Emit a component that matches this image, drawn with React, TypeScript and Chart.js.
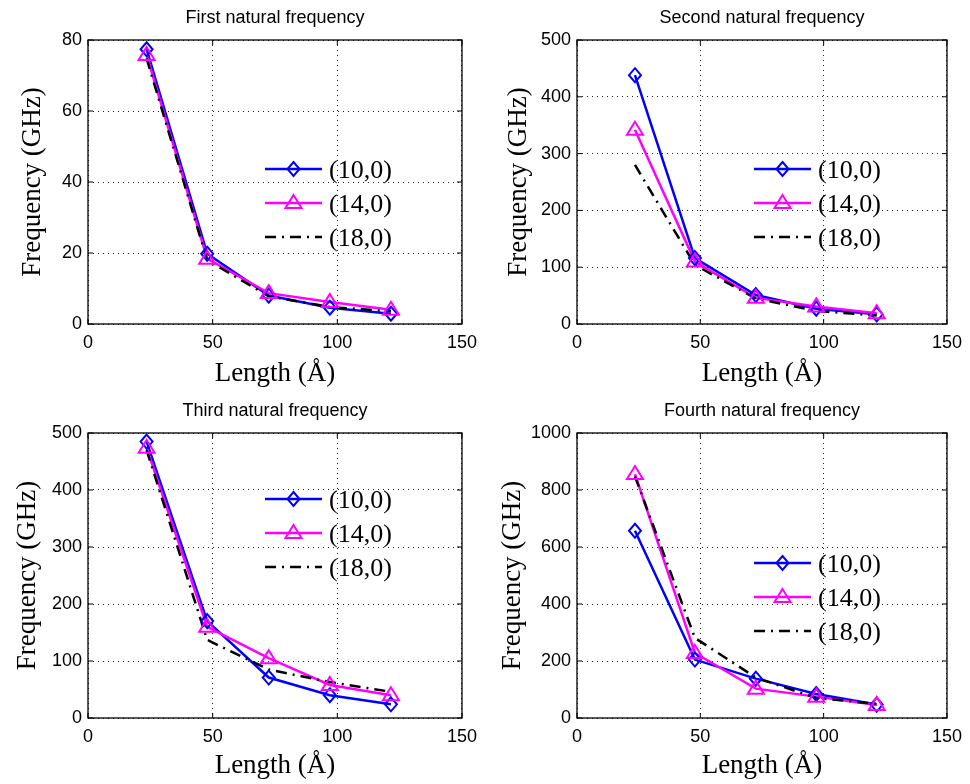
import React, { useEffect, useRef } from "react";
import { Chart, registerables } from "chart.js";

Chart.register(...registerables);

// ---------- data ----------
const lengths = [23.5, 47.8, 72.5, 97, 121.5];
const seriesNames = ["(10,0)", "(14,0)", "(18,0)"];

const first10 = [77.4, 19.8, 8.0, 4.6, 2.9];
const first14 = [75.8, 18.4, 8.7, 6.2, 4.0];
const first18 = [74.8, 18.0, 7.8, 4.8, 3.6];

const second10 = [438, 116, 51, 27, 17];
const second14 = [342, 110, 46, 31, 19];
const second18 = [280, 104, 45, 23, 15];

const third10 = [485, 170, 71, 40, 24];
const third14 = [474, 160, 105, 58, 40];
const third18 = [470, 137, 85, 63, 46];

const fourth10 = [657, 205, 138, 84, 47];
const fourth14 = [856, 228, 103, 75, 46];
const fourth18 = [848, 281, 142, 70, 50];

const titles = [
  "First natural frequency",
  "Second natural frequency",
  "Third natural frequency",
  "Fourth natural frequency",
];
const xTickMax = 150;
const xTickStep = 50;
const yMaxes = [80, 500, 500, 1000];
const ySteps = [20, 100, 100, 200];
const xLabel = "Length (Å)";
const yLabel = "Frequency (GHz)";

const panelSeries = [
  [first10, first14, first18],
  [second10, second14, second18],
  [third10, third14, third18],
  [fourth10, fourth14, fourth18],
];

// ---------- layout ----------
const W = 485;
const H = 392;
const frames = [
  { L: 88, R: 462, T: 40, B: 324, yLabelX: 33, titleY: 18, xLabelY: 374, legTop: 129 },
  { L: 92, R: 466, T: 40, B: 324, yLabelX: 34, titleY: 18, xLabelY: 374, legTop: 129 },
  { L: 88, R: 462, T: 41, B: 326, yLabelX: 28, titleY: 19, xLabelY: 374, legTop: 66 },
  { L: 92, R: 466, T: 41, B: 326, yLabelX: 28, titleY: 19, xLabelY: 374, legTop: 130 },
];
const colors = ["#0000ff", "#ff00ff", "#000000"];
const markers = ["diamond", "triangle", "none"];
const dashes: number[][] = [[], [], [11, 6, 2, 6]];

function drawMarker(ctx: CanvasRenderingContext2D, kind: string, x: number, y: number, color: string) {
  if (kind === "none") return;
  ctx.save();
  ctx.setLineDash([]);
  ctx.strokeStyle = color;
  ctx.lineWidth = 2;
  ctx.beginPath();
  if (kind === "diamond") {
    ctx.moveTo(x, y - 7);
    ctx.lineTo(x + 6, y);
    ctx.lineTo(x, y + 7);
    ctx.lineTo(x - 6, y);
    ctx.closePath();
  } else {
    ctx.moveTo(x, y - 8);
    ctx.lineTo(x + 8, y + 5);
    ctx.lineTo(x - 8, y + 5);
    ctx.closePath();
  }
  ctx.stroke();
  ctx.restore();
}

const decor = {
  id: "decor",
  afterDatasetsDraw(chart: any, _args: any, opts: any) {
    const { ctx, chartArea: a } = chart;
    const xs = chart.scales.x;
    const ys = chart.scales.y;
    ctx.save();
    // markers for data points
    chart.data.datasets.forEach((ds: any, i: number) => {
      if (markers[i] === "none") return;
      const meta = chart.getDatasetMeta(i);
      meta.data.forEach((pt: any) => drawMarker(ctx, markers[i], pt.x, pt.y, colors[i]));
    });
    // frame
    ctx.setLineDash([]);
    ctx.strokeStyle = "#000";
    ctx.lineWidth = 1.3;
    ctx.strokeRect(a.left, a.top, a.right - a.left, a.bottom - a.top);
    ctx.beginPath();
    xs.ticks.forEach((t: any) => {
      const px = xs.getPixelForValue(t.value);
      ctx.moveTo(px, a.bottom);
      ctx.lineTo(px, a.bottom - 5);
      ctx.moveTo(px, a.top);
      ctx.lineTo(px, a.top + 5);
    });
    ys.ticks.forEach((t: any) => {
      const py = ys.getPixelForValue(t.value);
      ctx.moveTo(a.left, py);
      ctx.lineTo(a.left + 5, py);
      ctx.moveTo(a.right, py);
      ctx.lineTo(a.right - 5, py);
    });
    ctx.lineWidth = 1;
    ctx.stroke();
    // title
    ctx.fillStyle = "#000";
    ctx.textAlign = "center";
    ctx.textBaseline = "middle";
    ctx.font = "18px 'Liberation Sans', Arial, sans-serif";
    ctx.fillText(opts.title, (a.left + a.right) / 2, opts.titleY);
    // axis labels
    ctx.font = "27px 'Liberation Serif', 'Times New Roman', serif";
    ctx.fillText(xLabel, (a.left + a.right) / 2, opts.xLabelY);
    ctx.save();
    ctx.translate(opts.yLabelX, (a.top + a.bottom) / 2);
    ctx.rotate(-Math.PI / 2);
    ctx.fillText(yLabel, 0, 0);
    ctx.restore();
    // legend
    ctx.font = "26px 'Liberation Serif', 'Times New Roman', serif";
    ctx.textAlign = "left";
    seriesNames.forEach((name, i) => {
      const y = a.top + opts.legTop + i * 34;
      const x0 = a.left + 177;
      const x1 = x0 + 57;
      ctx.save();
      ctx.strokeStyle = colors[i];
      ctx.lineWidth = 2.5;
      ctx.setLineDash(dashes[i]);
      ctx.beginPath();
      ctx.moveTo(x0, y);
      ctx.lineTo(x1, y);
      ctx.stroke();
      ctx.restore();
      drawMarker(ctx, markers[i], (x0 + x1) / 2, y, colors[i]);
      ctx.fillStyle = "#000";
      ctx.fillText(name, x1 + 7, y + 2);
    });
    ctx.restore();
  },
};

function Panel({ index }: { index: number }) {
  const ref = useRef<HTMLCanvasElement | null>(null);
  useEffect(() => {
    if (!ref.current) return;
    const f = frames[index];
    const series = panelSeries[index];
    const chart = new Chart(ref.current, {
      type: "scatter",
      data: {
        datasets: series.map((vals, i) => ({
          label: seriesNames[i],
          data: lengths.map((x, k) => ({ x, y: vals[k] })),
          showLine: true,
          borderColor: colors[i],
          backgroundColor: colors[i],
          borderWidth: 2.5,
          borderDash: dashes[i],
          pointRadius: 0,
          pointHoverRadius: 0,
          order: 2 - i,
        })),
      },
      options: {
        animation: false,
        responsive: false,
        devicePixelRatio: 1,
        events: [],
        layout: { padding: { left: 0, top: f.T, right: W - f.R, bottom: 0 } },
        plugins: {
          legend: { display: false },
          tooltip: { enabled: false },
          title: { display: false },
          decor: {
            title: titles[index],
            titleY: f.titleY,
            xLabelY: f.xLabelY,
            yLabelX: f.yLabelX,
            legTop: f.legTop,
          },
        } as any,
        scales: {
          x: {
            type: "linear",
            min: 0,
            max: xTickMax,
            ticks: {
              stepSize: xTickStep,
              color: "#000",
              padding: 8,
              callback: (v: any) => String(v),
              font: { family: "'Liberation Sans', Arial, sans-serif", size: 18 },
            },
            grid: { color: "#222", lineWidth: 1, drawTicks: false },
            border: { display: false, dash: [1, 4] },
            afterFit: (s: any) => {
              s.height = H - f.B;
            },
          },
          y: {
            type: "linear",
            min: 0,
            max: yMaxes[index],
            ticks: {
              stepSize: ySteps[index],
              color: "#000",
              padding: 6,
              callback: (v: any) => String(v),
              font: { family: "'Liberation Sans', Arial, sans-serif", size: 18 },
            },
            grid: { color: "#222", lineWidth: 1, drawTicks: false },
            border: { display: false, dash: [1, 4] },
            afterFit: (s: any) => {
              s.width = f.L;
            },
          },
        },
      },
      plugins: [decor as any],
    });
    return () => chart.destroy();
  }, [index]);
  return <canvas ref={ref} width={W} height={H} style={{ width: W, height: H, display: "block" }} />;
}

export default function App() {
  return (
    <div
      style={{
        position: "fixed",
        left: 0,
        top: 0,
        width: 970,
        height: 784,
        background: "#fff",
        display: "grid",
        gridTemplateColumns: `${W}px ${W}px`,
        gridTemplateRows: `${H}px ${H}px`,
      }}
    >
      {[0, 1, 2, 3].map((i) => (
        <Panel key={i} index={i} />
      ))}
    </div>
  );
}
